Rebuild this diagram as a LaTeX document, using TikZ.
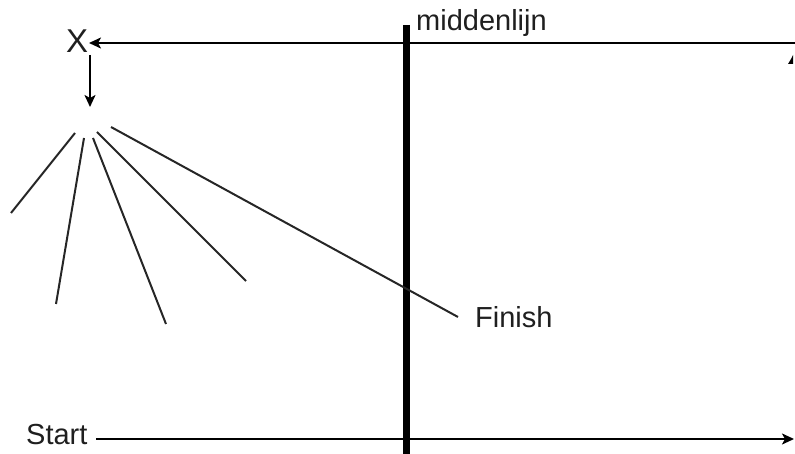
\documentclass[tikz,border=0pt]{standalone}
\usepackage{fontspec}
\setmainfont{Liberation Sans}
\usetikzlibrary{arrows.meta}
\tikzset{
  lbl/.style={font=\fontsize{29}{32}\selectfont, inner sep=0pt, text=black!88},
  arr/.style={line width=2pt, -{Stealth[length=12pt,width=11pt,inset=3pt]}},
  ray/.style={line width=2pt, draw=black!85}
}
\begin{document}
\begin{tikzpicture}[x=1pt,y=-1pt]
\useasboundingbox (0,0) rectangle (795,454);
% labels
\node[lbl, font=\fontsize{33}{36}\selectfont, anchor=base west] (X) at (66,53) {X};
\node[lbl, anchor=base west] (mid) at (416,31) {middenlijn};
\node[lbl, anchor=base west] (start) at (26,444) {Start};
\node[lbl, anchor=base west] (finish) at (475,327) {Finish};
% coordinates
\coordinate (topR) at (795,43);
\coordinate (topL) at (89,43);
\coordinate (dnA) at (90,55);
\coordinate (dnB) at (90,107);
\coordinate (stA) at (96,439);
\coordinate (stB) at (794,439);
\coordinate (mTop) at (406,25);
\coordinate (mBot) at (406,454);
% middle line
\draw[line width=7pt] (mTop) -- (mBot);
% arrows
\draw[arr] (topR) -- (topL);
\draw[arr] (dnA) -- (dnB);
\draw[arr] (stA) -- (stB);
% small mark at top right
\fill (788,64) -- (793,64) -- (793,55) -- (791,59) -- cycle;
% rays
\coordinate (r1a) at (75,133); \coordinate (r1b) at (11,213);
\coordinate (r2a) at (84,138); \coordinate (r2b) at (56,304);
\coordinate (r3a) at (93,138); \coordinate (r3b) at (166,324);
\coordinate (r4a) at (97,132); \coordinate (r4b) at (246,281);
\coordinate (r5a) at (111,127); \coordinate (r5b) at (458,317);
\draw[ray] (r1a) -- (r1b);
\draw[ray] (r2a) -- (r2b);
\draw[ray] (r3a) -- (r3b);
\draw[ray] (r4a) -- (r4b);
\draw[ray] (r5a) -- (r5b);
\end{tikzpicture}
\end{document}
